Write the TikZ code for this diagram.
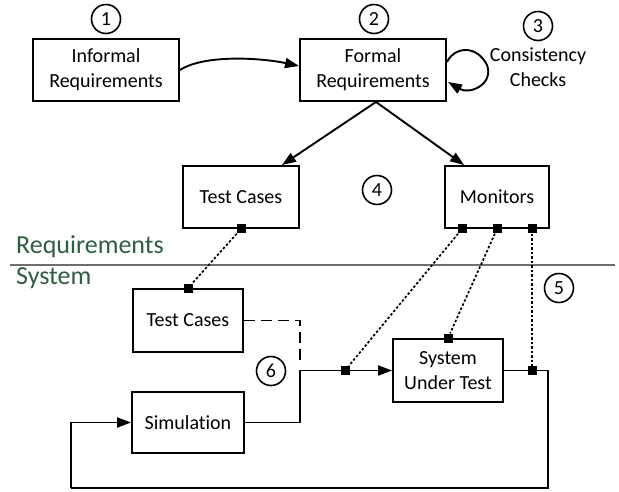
\documentclass[tikz,border=0pt]{standalone}
\usepackage{fontspec}
\setmainfont{Carlito}[Ligatures=NoCommon]
\usetikzlibrary{arrows.meta,calc}
\definecolor{labgreen}{RGB}{46,94,62}
\definecolor{sepgray}{RGB}{110,110,110}
\begin{document}
\begin{tikzpicture}[x=1pt,y=-1pt,
  box/.style={draw,line width=1.9pt,inner sep=0pt,align=center,font=\fontsize{20}{25}\selectfont},
  num/.style={draw,circle,line width=1.6pt,minimum size=29pt,inner sep=0pt,font=\fontsize{20}{20}\selectfont},
  sq/.style={fill=black,minimum size=9pt,inner sep=0pt},
  arr/.style={line width=1.9pt,-{Triangle[length=14pt,width=10pt]}},
  conn/.style={line width=1.9pt},
  dotl/.style={line width=1.7pt,dash pattern=on 2.5pt off 2pt},
  dashl/.style={line width=1.9pt,dash pattern=on 11pt off 6pt},
  lab/.style={text=labgreen,font=\fontsize{26}{28}\selectfont,anchor=west,inner sep=0pt},
  txt/.style={align=center,inner sep=0pt,font=\fontsize{20}{25}\selectfont}]
\useasboundingbox (0,0) rectangle (619,491);

% boxes
\node[box,minimum width=146pt,minimum height=62pt] (inf) at (106,70) {Informal\\Requirements};
\node[box,minimum width=146pt,minimum height=62pt] (form) at (373,70) {Formal\\Requirements};
\node[box,minimum width=116pt,minimum height=62pt] (tct) at (241,197) {Test Cases};
\node[box,minimum width=104pt,minimum height=62pt] (mon) at (497,197) {Monitors};
\node[box,minimum width=110pt,minimum height=63pt] (tcl) at (188,320.5) {Test Cases};
\node[box,minimum width=112pt,minimum height=61pt] (sim) at (188,422.5) {Simulation};
\node[box,minimum width=110pt,minimum height=63pt] (sut) at (448,370.5) {System\\Under Test};

% numbered circles
\node[num] (n1) at (106,19) {1};
\node[num] (n2) at (374,19) {2};
\node[num] (n3) at (538,26) {3};
\node[num] (n4) at (377,190) {4};
\node[num] (n5) at (559,288) {5};
\node[num] (n6) at (271,371) {6};
\node[txt] (cc) at (538,67.5) {Consistency\\Checks};

% separator
\coordinate (sepL) at (10,265);
\coordinate (sepR) at (615,265);
\draw[sepgray,line width=2.2pt] (sepL) -- (sepR);
\node[lab] (lreq) at (16,247) {Requirements};
\node[lab] (lsys) at (16,278) {System};

% top arrows
\draw[arr] (inf.east) .. controls (205,54) and (262,58) .. ($(form.west)+(0,-4)$);
\coordinate (l1) at (447,62);
\coordinate (l2) at (448,82);
\draw[arr] (l1) .. controls (455,46) and (477,45) .. (487,65) .. controls (494,84) and (470,95) .. (l2);
\draw[arr] ($(form.south)+(3,0)$) -- ($(tct.north east)+(-18,0)$);
\draw[arr] ($(form.south)+(3,0)$) -- ($(mon.north west)+(20,0)$);

% connector squares
\node[sq] (s1) at (tct.south) {};
\node[sq] (m1) at ($(mon.south)+(-35,0)$) {};
\node[sq] (m2) at (mon.south) {};
\node[sq] (m3) at ($(mon.south)+(35,0)$) {};
\node[sq] (s2) at (tcl.north) {};
\node[sq] (s3) at (sut.north) {};

% lower wiring
\coordinate (jx) at (300,370.5);
\coordinate (dend) at (300,363);
\coordinate (rx) at (548,370.5);
\coordinate (rb) at (548,488);
\coordinate (lb) at (71,488);
\draw[arr] (sim.east) -| (jx) -- (sut.west);
\draw[conn] (sut.east) -- (rx) -- (rb) -- (lb);
\draw[arr] (lb) |- (sim.west);
\node[sq] (j1) at (345,370.5) {};
\node[sq] (j2) at (532,370.5) {};
\draw[dashl] (tcl.east) -| (dend);

% dotted links
\draw[dotl] (s1) -- (s2);
\draw[dotl] (m1) -- (j1);
\draw[dotl] (m2) -- (s3);
\draw[dotl] (m3) -- (j2);
\end{tikzpicture}
\end{document}
